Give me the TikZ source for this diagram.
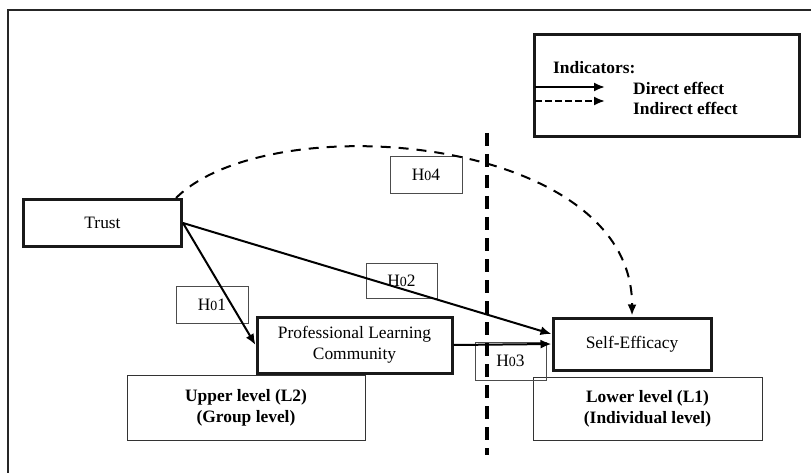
\documentclass[tikz,border=0pt]{standalone}
\usepackage{fontspec}
\setmainfont{Liberation Serif}
\usetikzlibrary{arrows.meta}
\newcommand{\hyp}[1]{H\scalebox{0.8}{0}#1}
\tikzset{
  every node/.style={font=\fontsize{17.4}{21}\selectfont},
  thickbox/.style={draw=black!90, line width=3pt, rectangle, inner sep=0pt, align=center},
  thinbox/.style={draw=black!80, line width=1pt, rectangle, inner sep=0pt, align=center},
  lvlbox/.style={draw=black!80, line width=1pt, rectangle, inner sep=0pt, align=center, font=\fontsize{17.4}{21}\selectfont\bfseries},
  hbox/.style={draw=black!70, line width=0.9pt, rectangle, inner sep=0pt},
  conn/.style={line width=2pt, -{Latex[length=11pt,width=9pt]}},
  dconn/.style={line width=2pt, dash pattern=on 10pt off 8pt, -{Latex[length=11pt,width=9pt]}},
}
\begin{document}
\begin{tikzpicture}[x=1pt,y=-1pt]
\useasboundingbox (0,0) rectangle (811,473);
% outer frame (left and top edges)
\draw[line width=1.2pt, black!85] (8,473) -- (8,10) -- (811,10);

% boxes
\node[lvlbox, minimum width=238pt, minimum height=65pt] (upper) at (246,407.5) {Upper level (L2)\\(Group level)};
\node[lvlbox, minimum width=229pt, minimum height=63pt] (lower) at (647.5,408.5) {Lower level (L1)\\(Individual level)};
\node[hbox, minimum width=72pt, minimum height=37pt] (h1) at (212,304.5) {\hyp{1}};
\node[hbox, minimum width=71pt, minimum height=35pt] (h2) at (401.5,280.5) {\hyp{2}};
\node[hbox, minimum width=71pt, minimum height=38pt] (h3) at (510.5,361) {\hyp{3}};
\node[hbox, minimum width=72pt, minimum height=37pt] (h4) at (426,174.5) {\hyp{4}};

\node[thickbox, minimum width=158pt, minimum height=46pt] (trust) at (102.5,223) {Trust};
\node[thickbox, minimum width=195pt, minimum height=56pt] (plc) at (354.5,345) {Professional Learning\\Community};
\node[thickbox, minimum width=158pt, minimum height=52pt] (se) at (632,344) {Self-Efficacy};

% vertical dashed divider
\coordinate (vtop) at (487,133);
\coordinate (vbot) at (487,455);
\draw[line width=3.5pt, dash pattern=on 13pt off 8pt] (vtop) -- (vbot);

% connectors
\draw[conn] (trust.east) -- (plc.west);
\draw[conn] (trust.east) -- ([yshift=10pt]se.west);
\draw[conn] (plc.east) -- (se.west);
\coordinate (cstart) at (176,198);
\draw[dconn] (cstart) .. controls (270,105) and (633,135) .. ([yshift=1pt]se.north);

% legend
\node[thickbox, minimum width=265pt, minimum height=102pt] (legend) at (666.5,86) {};
\node[anchor=west, font=\fontsize{17.4}{21}\selectfont\bfseries, inner sep=0pt] (ind) at (553,68) {Indicators:};
\node[anchor=west, font=\fontsize{17.4}{21}\selectfont\bfseries, inner sep=0pt] (de) at (633,88) {Direct effect};
\node[anchor=west, font=\fontsize{17.4}{21}\selectfont\bfseries, inner sep=0pt] (ie) at (633,108) {Indirect effect};
\coordinate (la) at (535,87);
\coordinate (lb) at (605,87);
\coordinate (lc) at (535,101);
\coordinate (ld) at (605,101);
\draw[line width=2pt, -{Latex[length=11pt,width=9pt]}] (la) -- (lb);
\draw[line width=2pt, dash pattern=on 7pt off 3pt, -{Latex[length=11pt,width=9pt]}] (lc) -- (ld);
\end{tikzpicture}
\end{document}
